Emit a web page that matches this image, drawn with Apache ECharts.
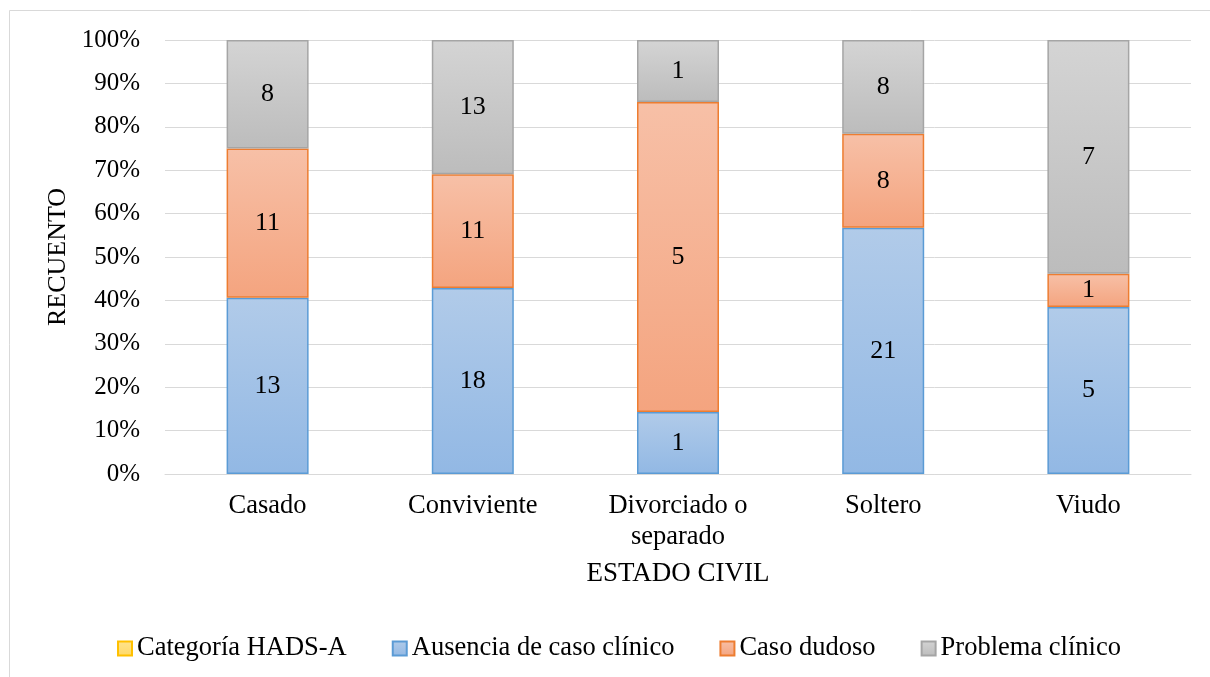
<!DOCTYPE html>
<html>
<head>
<meta charset="utf-8">
<script src="https://cdn.jsdelivr.net/npm/echarts@6/dist/echarts.min.js"></script>
<style>
html,body{margin:0;padding:0;background:#fff;}
#chart{width:1210px;height:677px;}
</style>
</head>
<body>
<div id="chart"></div>
<script>
const categories = ['Casado', 'Conviviente', 'Divorciado o\nseparado', 'Soltero', 'Viudo'];
const ausencia = [13, 18, 1, 21, 5];
const dudoso = [11, 11, 5, 8, 1];
const problema = [8, 13, 1, 8, 7];
const yTicks = [0, 10, 20, 30, 40, 50, 60, 70, 80, 90, 100];

const totals = categories.map((c, i) => ausencia[i] + dudoso[i] + problema[i]);
const pct = arr => arr.map((v, i) => ({ value: v / totals[i] * 100, count: v }));

const FONT = "'Liberation Serif', 'Times New Roman', serif";
function grad(top, bottom) {
  return new echarts.graphic.LinearGradient(0, 0, 0, 1, [
    { offset: 0, color: top }, { offset: 1, color: bottom }
  ]);
}
const label = {
  show: true, position: 'inside', color: '#000', fontFamily: FONT, fontSize: 26,
  formatter: p => p.data.count
};

const chart = echarts.init(document.getElementById('chart'), null, { renderer: 'canvas' });
chart.setOption({
  animation: false,
  backgroundColor: '#fff',
  graphic: [{
    type: 'rect', shape: { x: 9.5, y: 10.5, width: 1300, height: 800 },
    style: { fill: 'none', stroke: '#d9d9d9', lineWidth: 1 }, silent: true, z: -10
  }],
  grid: { left: 165, right: 19, top: 40, bottom: 203, containLabel: false },
  legend: {
    top: 630, left: 112,
    itemWidth: 14, itemHeight: 14, itemGap: 45, icon: 'rect',
    textStyle: { fontFamily: FONT, fontSize: 26.5, color: '#000' },
    data: ['Categoría HADS-A', 'Ausencia de caso clínico', 'Caso dudoso', 'Problema clínico']
  },
  xAxis: {
    type: 'category', data: categories,
    name: 'ESTADO CIVIL', nameLocation: 'middle', nameGap: 86,
    nameTextStyle: { fontFamily: FONT, fontSize: 27, color: '#000' },
    axisLine: { lineStyle: { color: '#d9d9d9', width: 1 } },
    axisTick: { show: false },
    axisLabel: { fontFamily: FONT, fontSize: 26.5, color: '#000', margin: 17, lineHeight: 31, interval: 0 }
  },
  yAxis: {
    type: 'value', min: 0, max: 100, interval: 10,
    name: 'RECUENTO', nameLocation: 'middle', nameGap: 90, nameRotate: 90,
    nameTextStyle: { fontFamily: FONT, fontSize: 26, color: '#000' },
    axisLine: { show: false }, axisTick: { show: false },
    splitLine: { lineStyle: { color: '#d9d9d9', width: 1 } },
    axisLabel: { fontFamily: FONT, fontSize: 25, color: '#000', margin: 25,
      formatter: v => yTicks.includes(v) ? v + '%' : '' }
  },
  series: [
    { name: 'Categoría HADS-A', type: 'bar', stack: 't', data: [],
      itemStyle: { color: grad('#ffe38f', '#ffd966'), borderColor: '#ffc000', borderWidth: 1.5 } },
    { name: 'Ausencia de caso clínico', type: 'bar', stack: 't', barWidth: 82, data: pct(ausencia),
      itemStyle: { color: grad('#b1cbe9', '#92b8e4'), borderColor: '#5b9bd5', borderWidth: 1.5 }, label },
    { name: 'Caso dudoso', type: 'bar', stack: 't', barWidth: 82, data: pct(dudoso),
      itemStyle: { color: grad('#f7c0a7', '#f4a47f'), borderColor: '#ed7d31', borderWidth: 1.5 }, label },
    { name: 'Problema clínico', type: 'bar', stack: 't', barWidth: 82, data: pct(problema),
      itemStyle: { color: grad('#d4d4d4', '#bcbcbc'), borderColor: '#a5a5a5', borderWidth: 1.5 }, label }
  ]
});
</script>
</body>
</html>
